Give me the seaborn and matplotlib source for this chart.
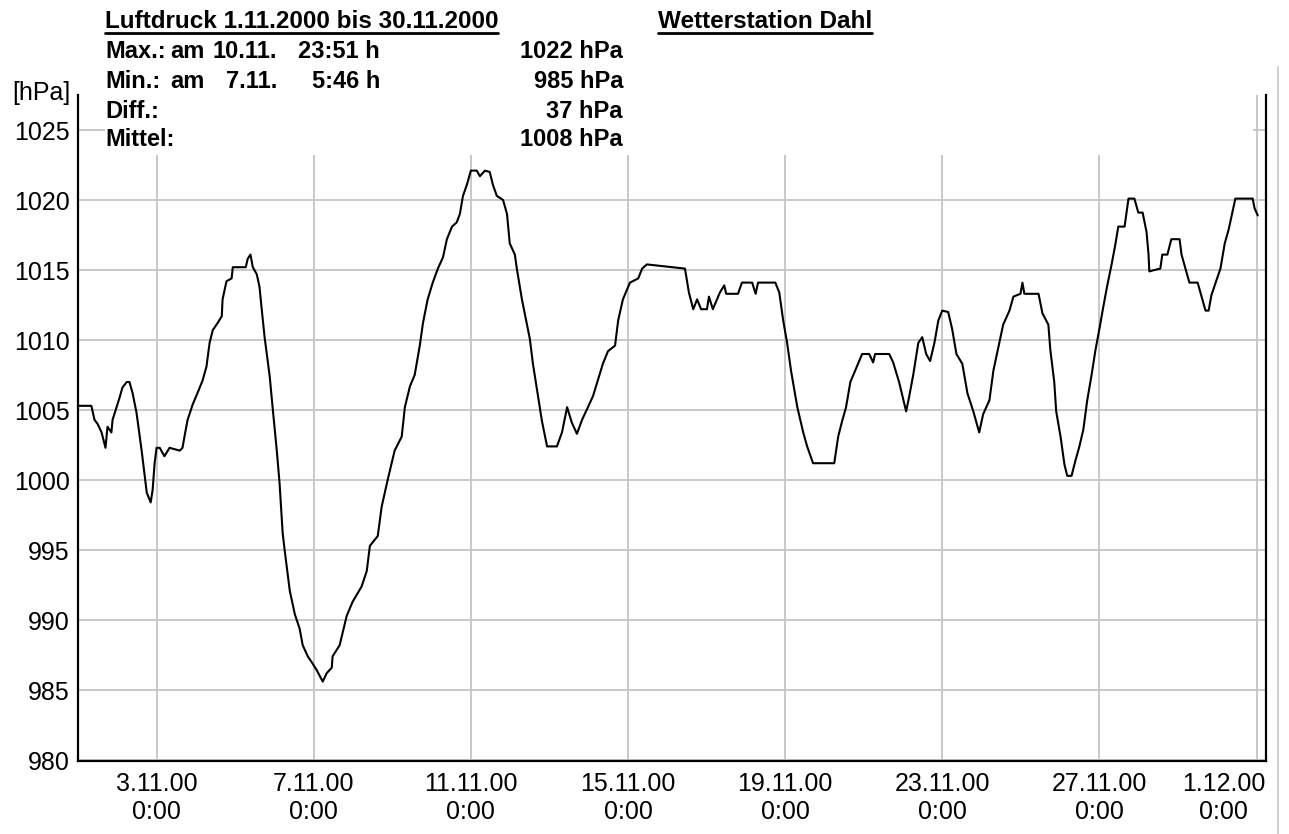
import pandas as pd
import matplotlib
matplotlib.use("Agg")
import matplotlib.pyplot as plt
import matplotlib.transforms as mtransforms
from matplotlib.patches import Rectangle
from matplotlib.lines import Line2D
import seaborn as sns

# Luftdruck-Verlauf (Tage ab 1.11.2000 0:00, hPa)
tage = [
    0.00, 0.34, 0.42, 0.50, 0.60, 0.70, 0.75, 0.85, 0.88, 0.98, 1.06, 1.13, 1.24, 1.31, 1.39,
    1.49, 1.62, 1.69, 1.75, 1.85, 1.90, 1.95, 2.00, 2.08, 2.20, 2.33, 2.59, 2.66, 2.71, 2.79,
    2.92, 3.04, 3.17, 3.27, 3.35, 3.43, 3.55, 3.66, 3.68, 3.78, 3.91, 3.94, 4.27, 4.32, 4.39,
    4.45, 4.55, 4.62, 4.68, 4.75, 4.88, 4.96, 5.06, 5.13, 5.21, 5.26, 5.39, 5.52, 5.64, 5.72,
    5.85, 5.97, 6.08, 6.23, 6.33, 6.46, 6.48, 6.66, 6.84, 6.99, 7.22, 7.35, 7.43, 7.63, 7.73,
    7.89, 8.06, 8.24, 8.32, 8.45, 8.57, 8.70, 8.78, 8.90, 9.03, 9.16, 9.29, 9.39, 9.52, 9.64,
    9.72, 9.80, 9.90, 10.00, 10.15, 10.23, 10.36, 10.48, 10.56, 10.66, 10.82, 10.92, 10.99, 11.12, 11.17,
    11.30, 11.43, 11.50, 11.58, 11.71, 11.81, 11.94, 12.19, 12.32, 12.45, 12.57, 12.70, 12.83, 12.98, 13.11,
    13.24, 13.36, 13.49, 13.67, 13.75, 13.87, 14.05, 14.26, 14.36, 14.48, 15.45, 15.55, 15.66, 15.76, 15.86,
    16.01, 16.06, 16.16, 16.34, 16.45, 16.50, 16.80, 16.90, 17.16, 17.25, 17.31, 17.75, 17.85, 17.95, 18.05,
    18.15, 18.31, 18.46, 18.56, 18.71, 19.25, 19.35, 19.45, 19.55, 19.66, 19.81, 19.96, 20.14, 20.24, 20.29,
    20.65, 20.75, 20.90, 21.01, 21.08, 21.16, 21.26, 21.39, 21.49, 21.59, 21.69, 21.80, 21.90, 22.00, 22.15,
    22.25, 22.36, 22.51, 22.64, 22.79, 22.94, 23.04, 23.20, 23.30, 23.45, 23.55, 23.71, 23.81, 23.99, 24.04,
    24.09, 24.45, 24.55, 24.70, 24.75, 24.85, 24.90, 25.01, 25.11, 25.18, 25.29, 25.39, 25.49, 25.59, 25.69,
    25.80, 25.90, 26.00, 26.10, 26.20, 26.31, 26.41, 26.48, 26.64, 26.74, 26.89, 26.99, 27.10, 27.20, 27.25,
    27.27, 27.40, 27.55, 27.60, 27.73, 27.83, 28.04, 28.09, 28.19, 28.29, 28.50, 28.60, 28.70, 28.78, 28.85,
    28.96, 29.08, 29.19, 29.29, 29.39, 29.46, 29.90, 29.95, 30.03,
]
druck = [
    1005.3, 1005.3, 1004.3, 1004.0, 1003.4, 1002.3, 1003.8, 1003.4, 1004.3, 1005.2, 1005.9, 1006.6, 1007.0, 1007.0, 1006.2,
    1004.8, 1002.1, 1000.5, 999.1, 998.4, 999.3, 1001.2, 1002.3, 1002.3, 1001.7, 1002.3, 1002.1, 1002.3, 1003.1, 1004.3,
    1005.4, 1006.2, 1007.1, 1008.1, 1009.8, 1010.7, 1011.2, 1011.7, 1012.9, 1014.2, 1014.4, 1015.2, 1015.2, 1015.8, 1016.1,
    1015.2, 1014.7, 1013.8, 1012.1, 1010.2, 1007.4, 1005.0, 1002.1, 999.8, 996.2, 995.0, 992.1, 990.4, 989.4, 988.2,
    987.4, 986.9, 986.4, 985.6, 986.2, 986.6, 987.4, 988.2, 990.3, 991.3, 992.4, 993.5, 995.3, 996.0, 998.1,
    1000.1, 1002.1, 1003.1, 1005.2, 1006.7, 1007.5, 1009.6, 1011.2, 1012.9, 1014.1, 1015.1, 1015.9, 1017.2, 1018.1, 1018.4,
    1019.0, 1020.3, 1021.1, 1022.1, 1022.1, 1021.7, 1022.1, 1022.0, 1021.1, 1020.3, 1020.0, 1019.0, 1016.9, 1016.1, 1015.1,
    1012.9, 1011.1, 1010.1, 1008.3, 1006.0, 1004.2, 1002.4, 1002.4, 1003.4, 1005.2, 1004.1, 1003.3, 1004.3, 1005.2, 1006.0,
    1007.2, 1008.3, 1009.2, 1009.6, 1011.4, 1012.9, 1014.1, 1014.4, 1015.1, 1015.4, 1015.1, 1013.4, 1012.2, 1012.9, 1012.2,
    1012.2, 1013.1, 1012.2, 1013.4, 1013.9, 1013.3, 1013.3, 1014.1, 1014.1, 1013.3, 1014.1, 1014.1, 1013.4, 1011.4, 1009.8,
    1007.8, 1005.2, 1003.4, 1002.4, 1001.2, 1001.2, 1003.1, 1004.2, 1005.2, 1007.0, 1008.0, 1009.0, 1009.0, 1008.4, 1009.0,
    1009.0, 1008.4, 1007.0, 1005.7, 1004.9, 1006.0, 1007.5, 1009.8, 1010.2, 1009.0, 1008.5, 1009.8, 1011.4, 1012.1, 1012.0,
    1010.8, 1009.0, 1008.3, 1006.2, 1004.9, 1003.4, 1004.7, 1005.7, 1007.8, 1009.8, 1011.1, 1012.1, 1013.1, 1013.3, 1014.1,
    1013.3, 1013.3, 1011.9, 1011.1, 1009.3, 1007.0, 1004.9, 1003.1, 1001.1, 1000.3, 1000.3, 1001.4, 1002.4, 1003.6, 1005.7,
    1007.5, 1009.3, 1010.8, 1012.4, 1013.9, 1015.4, 1016.9, 1018.1, 1018.1, 1020.1, 1020.1, 1019.1, 1019.1, 1017.7, 1016.1,
    1014.9, 1015.0, 1015.1, 1016.1, 1016.1, 1017.2, 1017.2, 1016.1, 1015.1, 1014.1, 1014.1, 1013.1, 1012.1, 1012.1, 1013.2,
    1014.1, 1015.1, 1016.9, 1017.9, 1019.2, 1020.1, 1020.1, 1019.4, 1018.9,
]

x_ticks = [2, 6, 10, 14, 18, 22, 26, 30]
x_labels = ["3.11.00\n0:00", "7.11.00\n0:00", "11.11.00\n0:00", "15.11.00\n0:00",
            "19.11.00\n0:00", "23.11.00\n0:00", "27.11.00\n0:00", "1.12.00\n0:00"]
y_ticks = [980, 985, 990, 995, 1000, 1005, 1010, 1015, 1020, 1025]

titel = "Luftdruck 1.11.2000 bis 30.11.2000"
station = "Wetterstation Dahl"
stat_namen = ["Max.:", "Min.:", "Diff.:", "Mittel:"]
stat_datum = ["10.11.", "7.11.", "", ""]
stat_zeit = ["23:51 h", "5:46 h", "", ""]
stat_werte = ["1022 hPa", "985 hPa", "37 hPa", "1008 hPa"]

df = pd.DataFrame({"tag": tage, "hPa": druck})

sns.set_theme(style="whitegrid")
plt.rcParams["font.family"] = ["Liberation Sans", "DejaVu Sans"]
plt.rcParams["text.color"] = "black"

W, H = 1289, 834
fig = plt.figure(figsize=(W / 100, H / 100), dpi=100)
fig.patch.set_facecolor("white")
ax = fig.add_axes([78 / W, 73 / H, (1266 - 78) / W, (761 - 95) / H])

sns.lineplot(data=df, x="tag", y="hPa", ax=ax, color="black", linewidth=1.5,
             estimator=None, sort=False)

ax.set_xlim(0, 30.24)
ax.set_ylim(979.93, 1027.5)
ax.set_xticks(x_ticks)
ax.set_xticklabels(x_labels, fontsize=18, linespacing=1.2)
ax.set_yticks(y_ticks)
ax.set_yticklabels([str(v) for v in y_ticks], fontsize=18)
ax.tick_params(axis="x", length=0, pad=8, colors="black")
ax.tick_params(axis="y", length=0, pad=6, colors="black")
ax.set_xlabel("")
ax.set_ylabel("")
ax.grid(True, color="#c8c8c8", linewidth=1.4)
ax.set_facecolor("white")
for side in ["left", "bottom", "right"]:
    ax.spines[side].set_visible(True)
    ax.spines[side].set_color("black")
    ax.spines[side].set_linewidth(1.6)
ax.spines["top"].set_visible(False)

# letzte Beschriftung rechtsbuendig an den Rand schieben
last = ax.get_xticklabels()[-1]
last.set_horizontalalignment("right")
last.set_multialignment("center")
last.set_transform(last.get_transform() +
                   mtransforms.ScaledTranslation(9 / 100, 0, fig.dpi_scale_trans))

# weisser Kasten hinter dem Textblock
fig.add_artist(Rectangle((105 / W, (H - 155) / H), (1253 - 105) / W, 155 / H,
                         transform=fig.transFigure, facecolor="white",
                         edgecolor="none", zorder=1))
# graue Rahmenlinie rechts
fig.add_artist(Line2D([1278 / W, 1278 / W], [0, (H - 67) / H], color="#d0d0d0",
                      linewidth=1.5, transform=fig.transFigure, zorder=1))

fig.text(70 / W, (H - 93) / H, "[hPa]", fontsize=18, ha="right", va="center",
         zorder=3)

t1 = fig.text(105 / W, (H - 22) / H, titel, fontsize=17.5, fontweight="bold",
              ha="left", va="center", zorder=3)
t2 = fig.text(658 / W, (H - 22) / H, station, fontsize=17.5, fontweight="bold",
              ha="left", va="center", zorder=3)

zeilen_y = [51, 81, 111, 140]
for i, yy in enumerate(zeilen_y):
    yf = (H - yy) / H
    fig.text(105 / W, yf, stat_namen[i], fontsize=17, fontweight="bold", va="center", zorder=3)
    if stat_datum[i]:
        fig.text(170 / W, yf, "am", fontsize=17, fontweight="bold", va="center", zorder=3)
        fig.text(277 / W, yf, stat_datum[i], fontsize=17, fontweight="bold", ha="right",
                 va="center", zorder=3)
        fig.text(380 / W, yf, stat_zeit[i], fontsize=17, fontweight="bold", ha="right",
                 va="center", zorder=3)
    fig.text(623 / W, yf, stat_werte[i], fontsize=17, fontweight="bold", ha="right",
             va="center", zorder=3)

# Unterstreichungen
fig.canvas.draw()
renderer = fig.canvas.get_renderer()
for t in [t1, t2]:
    bb = t.get_window_extent(renderer)
    yl = (bb.y0 + 1) / H
    fig.add_artist(Line2D([bb.x0 / W, bb.x1 / W], [yl, yl], color="black",
                          linewidth=2, transform=fig.transFigure, zorder=3))

fig.savefig("out.png", dpi=100)
plt.close(fig)
